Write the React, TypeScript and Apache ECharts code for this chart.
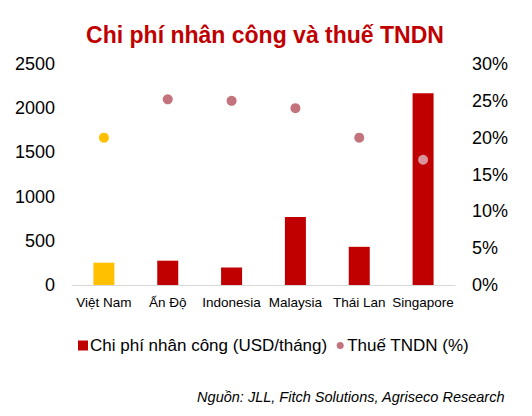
import React, { useEffect, useRef } from "react";
import * as echarts from "echarts";

const categories = ["Việt Nam", "Ấn Độ", "Indonesia", "Malaysia", "Thái Lan", "Singapore"];
const laborCost = [252, 275, 198, 768, 432, 2168];
const taxRate = [20, 25.2, 25, 24, 20, 17];
const leftTicks = { min: 0, max: 2500, interval: 500 };
const rightTicks = { min: 0, max: 30, interval: 5 };

const FONT = "'Liberation Sans', Arial, sans-serif";
const RED = "#C00000";
const YELLOW = "#FFC000";
const PINK = "#C2737C";
const PINK_LIGHT = "#D8939B";
const SMALL_CIRCLE = "path://M0 0M10 10M5 1.5A3.5 3.5 0 1 1 5 8.5A3.5 3.5 0 1 1 5 1.5Z";

export default function App() {
  const ref = useRef<HTMLDivElement>(null);
  useEffect(() => {
    if (!ref.current) return;
    const chart = echarts.init(ref.current, null, { renderer: "svg" });
    chart.setOption({
      animation: false,
      backgroundColor: "#fff",
      textStyle: { fontFamily: FONT },
      title: {
        text: "Chi phí nhân công và thuế TNDN",
        left: 260,
        textAlign: "center",
        top: 18,
        textStyle: { color: RED, fontSize: 23, fontWeight: "bold", fontFamily: FONT },
      },
      grid: { left: 72, right: 77, top: 64, bottom: 131 },
      legend: {
        left: 73,
        top: 332,
        itemWidth: 10,
        itemHeight: 10,
        itemGap: 8,
        textStyle: { fontSize: 17, color: "#000", fontFamily: FONT, padding: [0, 0, 0, -3] },
        data: [
          { name: "Chi phí nhân công (USD/tháng)", icon: "rect", itemStyle: { color: RED } },
          { name: "Thuế TNDN (%)", icon: SMALL_CIRCLE, itemStyle: { color: PINK } },
        ],
      },
      xAxis: {
        type: "category",
        data: categories,
        axisLine: { lineStyle: { color: "#D9D9D9", width: 1 } },
        axisTick: { show: false },
        axisLabel: { color: "#000", fontSize: 13.5, margin: 10, fontFamily: FONT, interval: 0 },
      },
      yAxis: [
        {
          type: "value",
          min: leftTicks.min,
          max: leftTicks.max,
          interval: leftTicks.interval,
          splitLine: { show: false },
          axisLine: { show: false },
          axisTick: { show: false },
          axisLabel: {
            color: "#000",
            fontSize: 18,
            margin: 17,
            fontFamily: FONT,
            formatter: (v: number) => String(v),
          },
        },
        {
          type: "value",
          min: rightTicks.min,
          max: rightTicks.max,
          interval: rightTicks.interval,
          splitLine: { show: false },
          axisLine: { show: false },
          axisTick: { show: false },
          axisLabel: { color: "#000", fontSize: 18, margin: 17, fontFamily: FONT, formatter: "{value}%" },
        },
      ],
      series: [
        {
          name: "Chi phí nhân công (USD/tháng)",
          type: "bar",
          yAxisIndex: 0,
          barWidth: 21,
          itemStyle: { color: RED },
          data: laborCost.map((v, i) => (i === 0 ? { value: v, itemStyle: { color: YELLOW } } : v)),
        },
        {
          name: "Thuế TNDN (%)",
          type: "scatter",
          yAxisIndex: 1,
          symbolSize: 10,
          itemStyle: { color: PINK, opacity: 1 },
          z: 5,
          data: taxRate.map((v, i) =>
            i === 0
              ? { value: v, itemStyle: { color: YELLOW } }
              : i === categories.length - 1
              ? { value: v, itemStyle: { color: PINK_LIGHT } }
              : v
          ),
        },
      ],
      graphic: [
        {
          type: "text",
          right: 27,
          top: 389,
          style: {
            text: "Nguồn: JLL, Fitch Solutions, Agriseco Research",
            font: `italic 14.5px ${FONT}`,
            fill: "#000",
          },
        },
      ],
    });
    return () => chart.dispose();
  }, []);
  return <div ref={ref} style={{ position: "fixed", left: 0, top: 0, width: 532, height: 416 }} />;
}
